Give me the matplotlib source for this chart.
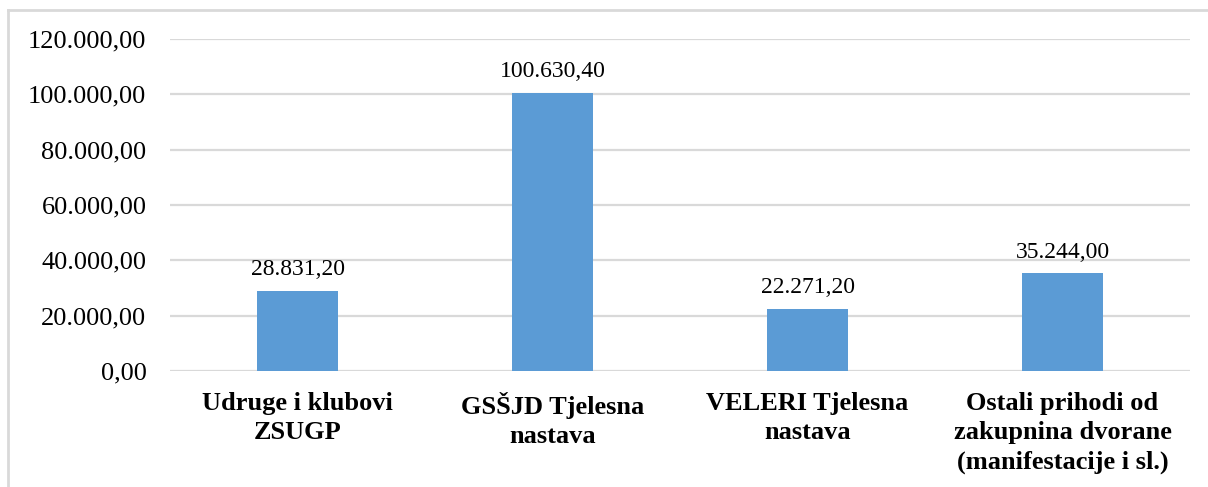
import matplotlib.pyplot as plt
from matplotlib.lines import Line2D
from matplotlib.ticker import FuncFormatter

# podaci
kategorije = ["Udruge i klubovi\nZSUGP", "GSŠJD Tjelesna\nnastava",
              "VELERI Tjelesna\nnastava",
              "Ostali prihodi od\nzakupnina dvorane\n(manifestacije i sl.)"]
vrijednosti = [28831.20, 100630.40, 22271.20, 35244.00]
y_ticks = [0, 20000, 40000, 60000, 80000, 100000, 120000]


def hr_format(v):
    # 28831.2 -> 28.831,20
    s = "{:,.2f}".format(v)
    return s.replace(",", "X").replace(".", ",").replace("X", ".")


plt.rcParams['font.family'] = ['Liberation Serif', 'DejaVu Serif']

fig = plt.figure(figsize=(12.08, 4.87), dpi=100)
ax = fig.add_axes([170/1208, 116/487, 1020/1208, 332/487])

x = range(len(kategorije))
ax.bar(x, vrijednosti, width=0.314, color='#5B9BD5', zorder=3)

for xi, v in zip(x, vrijednosti):
    ax.annotate(hr_format(v), (xi, v), xytext=(0, 11.5), textcoords='offset points',
                ha='center', va='baseline', fontsize=17)

ax.set_xlim(-0.5, len(kategorije) - 0.5)
ax.set_ylim(0, 120000)
ax.set_yticks(y_ticks)
ax.yaxis.set_major_formatter(FuncFormatter(lambda v, p: hr_format(v)))
ax.set_xticks(list(x))
ax.set_xticklabels(kategorije, fontsize=19, fontweight='bold', linespacing=1.36)
ax.tick_params(axis='y', length=0, pad=17, labelsize=19)
ax.tick_params(axis='x', length=0, pad=15)
ax.grid(axis='y', color='#d9d9d9', linewidth=1.6, zorder=0)
for s in ax.spines.values():
    s.set_visible(False)

# okvir grafikona
fig.add_artist(Line2D([8/1208, 1], [1 - 10/487, 1 - 10/487], color='#d9d9d9', lw=2))
fig.add_artist(Line2D([8/1208, 8/1208], [0, 1 - 10/487], color='#d9d9d9', lw=2))

plt.savefig("out.png", dpi=100)
